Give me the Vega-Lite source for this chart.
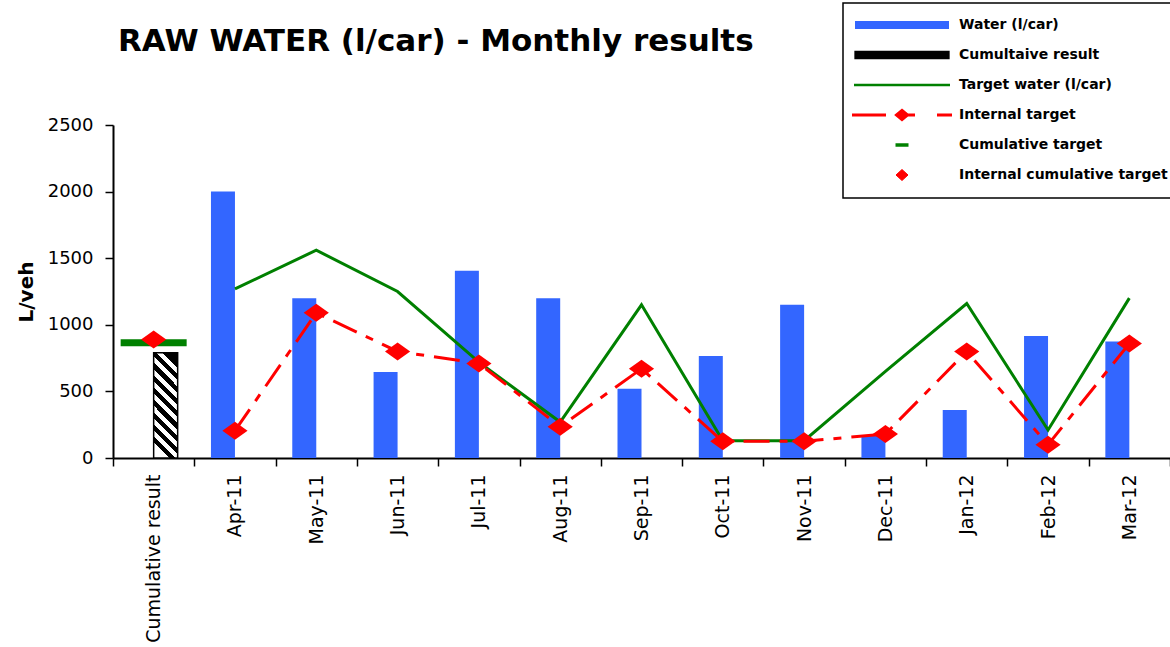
{
  "$schema": "https://vega.github.io/schema/vega-lite/v6.json",
  "width": 1057,
  "height": 333,
  "autosize": {"type": "none"},
  "padding": {"left": 113, "top": 125, "right": 0, "bottom": 189},
  "background": "white",
  "config": {"view": {"stroke": null}, "font": "DejaVu Sans"},
  "title": {
    "text": "RAW WATER (l/car) -  Monthly results",
    "anchor": "start",
    "frame": "group",
    "font": "DejaVu Sans",
    "fontSize": 31,
    "fontWeight": "bold",
    "color": "black",
    "baseline": "alphabetic",
    "offset": 0,
    "dx": 5,
    "dy": 80
  },
  "data": {
    "values": [
      {"cat": "Apr-11", "series": "Water (l/car)", "value": 2000},
      {"cat": "May-11", "series": "Water (l/car)", "value": 1200},
      {"cat": "Jun-11", "series": "Water (l/car)", "value": 645},
      {"cat": "Jul-11", "series": "Water (l/car)", "value": 1405},
      {"cat": "Aug-11", "series": "Water (l/car)", "value": 1200},
      {"cat": "Sep-11", "series": "Water (l/car)", "value": 520},
      {"cat": "Oct-11", "series": "Water (l/car)", "value": 765},
      {"cat": "Nov-11", "series": "Water (l/car)", "value": 1150},
      {"cat": "Dec-11", "series": "Water (l/car)", "value": 165},
      {"cat": "Jan-12", "series": "Water (l/car)", "value": 360},
      {"cat": "Feb-12", "series": "Water (l/car)", "value": 915},
      {"cat": "Mar-12", "series": "Water (l/car)", "value": 875},
      {"cat": "Cumulative result", "series": "Cumultaive result", "value": 790},
      {"cat": "Apr-11", "series": "Target water (l/car)", "value": 1270},
      {"cat": "May-11", "series": "Target water (l/car)", "value": 1560},
      {"cat": "Jun-11", "series": "Target water (l/car)", "value": 1250},
      {"cat": "Jul-11", "series": "Target water (l/car)", "value": 720},
      {"cat": "Aug-11", "series": "Target water (l/car)", "value": 270},
      {"cat": "Sep-11", "series": "Target water (l/car)", "value": 1150},
      {"cat": "Oct-11", "series": "Target water (l/car)", "value": 130},
      {"cat": "Nov-11", "series": "Target water (l/car)", "value": 130},
      {"cat": "Dec-11", "series": "Target water (l/car)", "value": 650},
      {"cat": "Jan-12", "series": "Target water (l/car)", "value": 1160},
      {"cat": "Feb-12", "series": "Target water (l/car)", "value": 210},
      {"cat": "Mar-12", "series": "Target water (l/car)", "value": 1200},
      {"cat": "Apr-11", "series": "Internal target", "value": 205},
      {"cat": "May-11", "series": "Internal target", "value": 1090},
      {"cat": "Jun-11", "series": "Internal target", "value": 800},
      {"cat": "Jul-11", "series": "Internal target", "value": 710},
      {"cat": "Aug-11", "series": "Internal target", "value": 235},
      {"cat": "Sep-11", "series": "Internal target", "value": 670},
      {"cat": "Oct-11", "series": "Internal target", "value": 125},
      {"cat": "Nov-11", "series": "Internal target", "value": 125},
      {"cat": "Dec-11", "series": "Internal target", "value": 180},
      {"cat": "Jan-12", "series": "Internal target", "value": 800},
      {"cat": "Feb-12", "series": "Internal target", "value": 100},
      {"cat": "Mar-12", "series": "Internal target", "value": 860},
      {"cat": "Cumulative result", "series": "Cumulative target", "value": 865},
      {"cat": "Cumulative result", "series": "Internal cumulative target", "value": 890}
    ]
  },
  "encoding": {
    "x": {
      "field": "cat",
      "type": "nominal",
      "scale": {
        "domain": ["Cumulative result", "Apr-11", "May-11", "Jun-11", "Jul-11", "Aug-11", "Sep-11", "Oct-11", "Nov-11", "Dec-11", "Jan-12", "Feb-12", "Mar-12"],
        "paddingInner": 0,
        "paddingOuter": 0
      },
      "axis": {
        "title": null,
        "labelAngle": -90,
        "labelFont": "DejaVu Sans",
        "labelFontSize": 19,
        "labelColor": "black",
        "labelPadding": 8,
        "labelLimit": 300,
        "tickBand": "extent",
        "tickSize": 8,
        "tickColor": "black",
        "tickWidth": 1.5,
        "domainColor": "black",
        "domainWidth": 2,
        "grid": false
      }
    },
    "y": {
      "field": "value",
      "type": "quantitative",
      "scale": {"domain": [0, 2500], "nice": false},
      "axis": {
        "title": "L/veh",
        "titleFont": "DejaVu Sans",
        "titleFontSize": 20,
        "titleFontWeight": "bold",
        "titleColor": "black",
        "titlePadding": 11,
        "values": [0, 500, 1000, 1500, 2000, 2500],
        "format": "d",
        "labelFont": "DejaVu Sans",
        "labelFontSize": 18,
        "labelColor": "black",
        "labelPadding": 12,
        "tickSize": 8,
        "tickColor": "black",
        "tickWidth": 1.5,
        "domainColor": "black",
        "domainWidth": 2,
        "grid": false
      }
    }
  },
  "layer": [
    {
      "transform": [{"filter": "datum.series === 'Water (l/car)'"}],
      "mark": {"type": "bar"},
      "encoding": {
        "xOffset": {"field": "series", "type": "nominal", "scale": {"domain": ["Water (l/car)", "Cumultaive result"], "paddingInner": 0, "paddingOuter": 0.694}},
        "color": {
          "field": "series",
          "type": "nominal",
          "scale": {
            "domain": ["Water (l/car)", "Cumultaive result", "Target water (l/car)", "Internal target", "Cumulative target", "Internal cumulative target"],
            "range": ["#3366FF", "#000000", "#008000", "#FF0000", "#008000", "#FF0000"]
          },
          "legend": {
            "title": null,
            "orient": "none",
            "legendX": 730,
            "legendY": -122,
            "direction": "vertical",
            "strokeColor": "black",
            "fillColor": "white",
            "padding": 15,
            "gridAlign": "all",
            "symbolSize": 400,
            "symbolOffset": 37,
            "labelOffset": 50,
            "rowPadding": 8,
            "labelFont": "DejaVu Sans",
            "labelFontSize": 14,
            "labelFontWeight": "bold",
            "labelColor": "black",
            "labelLimit": 400,
            "encode": {
              "legend": {"update": {"strokeWidth": {"value": 1.5}}},
              "symbols": {
                "update": {
                  "size": {"value": 400},
                  "opacity": {"value": 1},
                  "shape": {"signal": "datum.value === 'Water (l/car)' ? 'M-4.7,-0.4H4.7V0.4H-4.7Z' : datum.value === 'Cumultaive result' ? 'M-4.7,-0.35H4.7V0.35H-4.7ZM-4.1,-0.35L-3.4,0.35M-2.8,-0.35L-2.1,0.35M-1.5,-0.35L-0.8,0.35M-0.2,-0.35L0.5,0.35M1.1,-0.35L1.8,0.35M2.4,-0.35L3.1,0.35M3.6,-0.35L4.3,0.35' : datum.value === 'Target water (l/car)' ? 'M-4.8,0H4.8' : datum.value === 'Internal target' ? 'M-5,0H-1.6M0,-0.45L0.55,0L0,0.45L-0.55,0ZM0,0H1.3M3.5,0H5' : datum.value === 'Cumulative target' ? 'M-0.65,0H0.65' : 'M0,-0.55L0.6,0L0,0.55L-0.6,0Z'"},
                  "fill": {"signal": "datum.value === 'Water (l/car)' ? '#3366FF' : datum.value === 'Cumultaive result' ? 'white' : (datum.value === 'Internal target' || datum.value === 'Internal cumulative target') ? '#FF0000' : 'transparent'"},
                  "stroke": {"signal": "datum.value === 'Water (l/car)' ? 'transparent' : datum.value === 'Cumultaive result' ? 'black' : (datum.value === 'Internal target' || datum.value === 'Internal cumulative target') ? '#FF0000' : '#008000'"},
                  "strokeWidth": {"signal": "datum.value === 'Water (l/car)' ? 0 : datum.value === 'Cumultaive result' ? 1.3 : datum.value === 'Target water (l/car)' ? 2.5 : datum.value === 'Internal target' ? 3 : datum.value === 'Cumulative target' ? 3.5 : 1"}
                }
              }
            }
          }
        }
      }
    },
    {
      "transform": [{"filter": "datum.series === 'Cumultaive result'"}],
      "mark": {
        "type": "bar",
        "stroke": "black",
        "strokeWidth": 1.5,
        "fill": {
          "gradient": "linear",
          "x1": 0.6145, "y1": 0, "x2": 0.3855, "y2": 1,
          "stops": [
            {"offset": 0, "color": "black"}, {"offset": 0.0556, "color": "black"}, {"offset": 0.0556, "color": "white"}, {"offset": 0.1111, "color": "white"},
            {"offset": 0.1111, "color": "black"}, {"offset": 0.1667, "color": "black"}, {"offset": 0.1667, "color": "white"}, {"offset": 0.2222, "color": "white"},
            {"offset": 0.2222, "color": "black"}, {"offset": 0.2778, "color": "black"}, {"offset": 0.2778, "color": "white"}, {"offset": 0.3333, "color": "white"},
            {"offset": 0.3333, "color": "black"}, {"offset": 0.3889, "color": "black"}, {"offset": 0.3889, "color": "white"}, {"offset": 0.4444, "color": "white"},
            {"offset": 0.4444, "color": "black"}, {"offset": 0.5, "color": "black"}, {"offset": 0.5, "color": "white"}, {"offset": 0.5556, "color": "white"},
            {"offset": 0.5556, "color": "black"}, {"offset": 0.6111, "color": "black"}, {"offset": 0.6111, "color": "white"}, {"offset": 0.6667, "color": "white"},
            {"offset": 0.6667, "color": "black"}, {"offset": 0.7222, "color": "black"}, {"offset": 0.7222, "color": "white"}, {"offset": 0.7778, "color": "white"},
            {"offset": 0.7778, "color": "black"}, {"offset": 0.8333, "color": "black"}, {"offset": 0.8333, "color": "white"}, {"offset": 0.8889, "color": "white"},
            {"offset": 0.8889, "color": "black"}, {"offset": 0.9444, "color": "black"}, {"offset": 0.9444, "color": "white"}, {"offset": 1, "color": "white"}
          ]
        }
      },
      "encoding": {
        "xOffset": {"field": "series", "type": "nominal", "scale": {"domain": ["Water (l/car)", "Cumultaive result"], "paddingInner": 0, "paddingOuter": 0.694}}
      }
    },
    {
      "transform": [{"filter": "datum.series === 'Target water (l/car)'"}],
      "mark": {"type": "line", "strokeWidth": 3},
      "encoding": {"color": {"field": "series", "type": "nominal"}}
    },
    {
      "transform": [{"filter": "datum.series === 'Internal target'"}],
      "mark": {"type": "line", "strokeWidth": 3, "strokeDash": [26, 10, 8, 10]},
      "encoding": {"color": {"field": "series", "type": "nominal"}}
    },
    {
      "transform": [{"filter": "datum.series === 'Internal target'"}],
      "mark": {"type": "point", "filled": true, "opacity": 1, "shape": "M-1.4,0L0,-1L1.4,0L0,1Z", "size": 324},
      "encoding": {"color": {"field": "series", "type": "nominal"}}
    },
    {
      "transform": [{"filter": "datum.series === 'Cumulative target'"}],
      "mark": {"type": "tick", "orient": "horizontal", "thickness": 7, "size": 66, "opacity": 1},
      "encoding": {"color": {"field": "series", "type": "nominal"}}
    },
    {
      "transform": [{"filter": "datum.series === 'Internal cumulative target'"}],
      "mark": {"type": "point", "filled": true, "opacity": 1, "shape": "M-1.4,0L0,-1L1.4,0L0,1Z", "size": 324},
      "encoding": {"color": {"field": "series", "type": "nominal"}}
    }
  ]
}
